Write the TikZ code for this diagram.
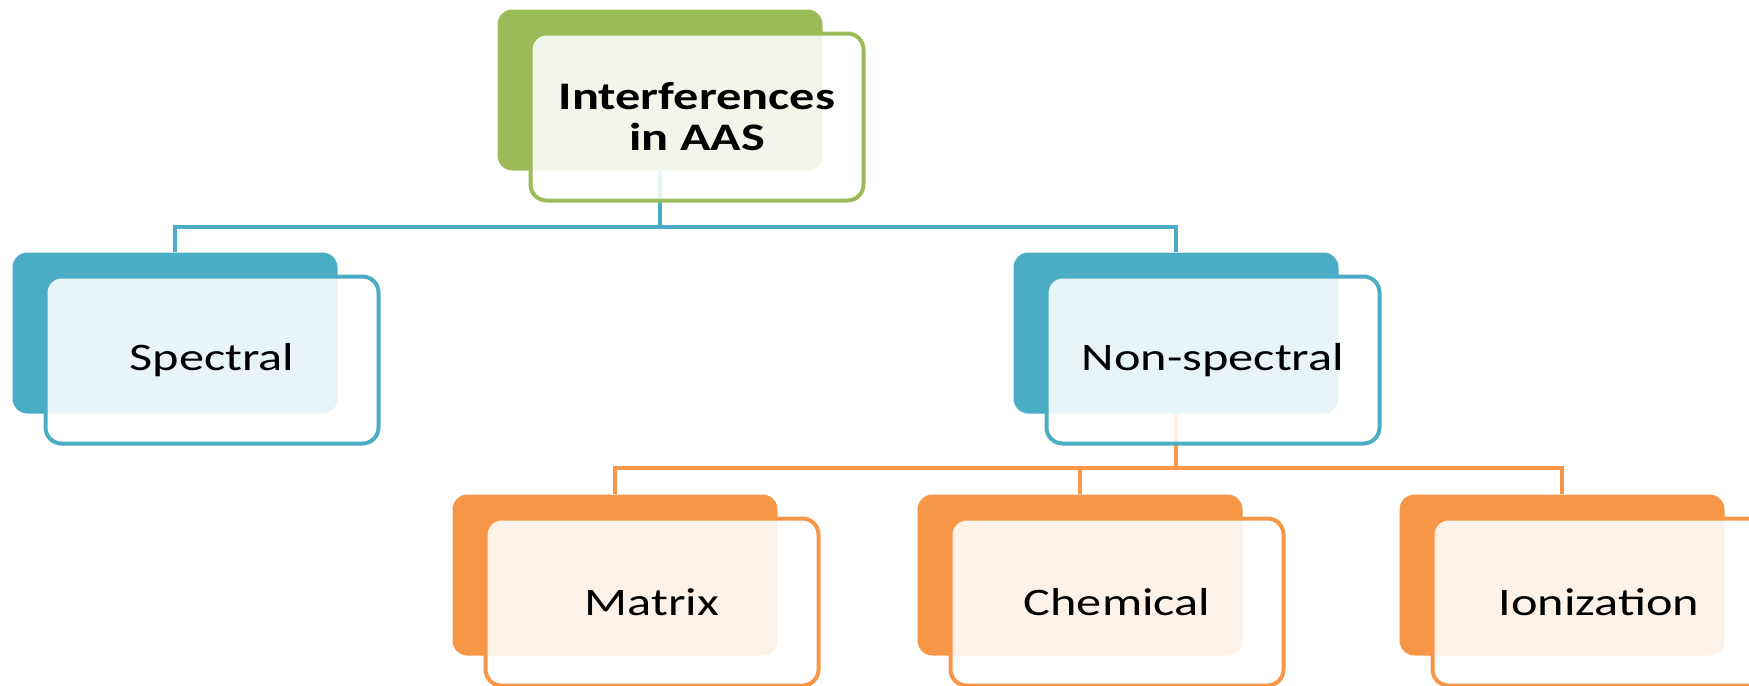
\documentclass[tikz,border=0pt]{standalone}
\usepackage{fontspec}
\setmainfont{Carlito}[FakeStretch=1.29]
\definecolor{cgreen}{HTML}{9BBB59}
\definecolor{cblue}{HTML}{4BACC6}
\definecolor{corange}{HTML}{F79646}
\begin{document}
\begin{tikzpicture}[x=0.5pt,y=-0.5pt,
  back/.style={rounded corners=7.5pt, minimum width=162.5pt, minimum height=80.5pt, inner sep=0pt, draw=none},
  front/.style={rounded corners=8pt, minimum width=166.5pt, minimum height=83.5pt, inner sep=0pt, line width=2pt, fill=white, fill opacity=0.88, text opacity=1, text=black, align=center, font=\fontsize{19.5}{20.5}\selectfont},
  conn/.style={line width=2pt}]
\useasboundingbox (0,0) rectangle (1749,685);
\clip (0,0) rectangle (1749,685);
% back boxes
\node[back, fill=cgreen] (top) at (660,90) {};
\node[back, fill=cblue] (spec) at (175,333) {};
\node[back, fill=cblue] (nons) at (1176,333) {};
\node[back, fill=corange] (matr) at (615,575) {};
\node[back, fill=corange] (chem) at (1080,575) {};
\node[back, fill=corange] (ioni) at (1562,575) {};
% connectors
\coordinate (b1) at (660,227);
\coordinate (b2) at (1176,468);
\draw[conn, cblue] (top.south) -- (b1) -| (spec.north);
\draw[conn, cblue] (b1) -| (nons.north);
\draw[conn, corange] (nons.south) -- (b2) -| (matr.north);
\draw[conn, corange] (b2) -| (chem.north);
\draw[conn, corange] (b2) -| (ioni.north);
% front boxes
\node[front, draw=cgreen] (topf) at (697,117) {\bfseries Interferences\\\bfseries in AAS};
\node[front, draw=cblue] (specf) at (212,360) {Spectral};
\node[front, draw=cblue] (nonsf) at (1213,360) {Non-spectral};
\node[front, draw=corange] (matrf) at (652,602) {Matrix};
\node[front, draw=corange] (chemf) at (1117,602) {Chemical};
\node[front, draw=corange] (ionif) at (1599,602) {Ionization};
\end{tikzpicture}
\end{document}
